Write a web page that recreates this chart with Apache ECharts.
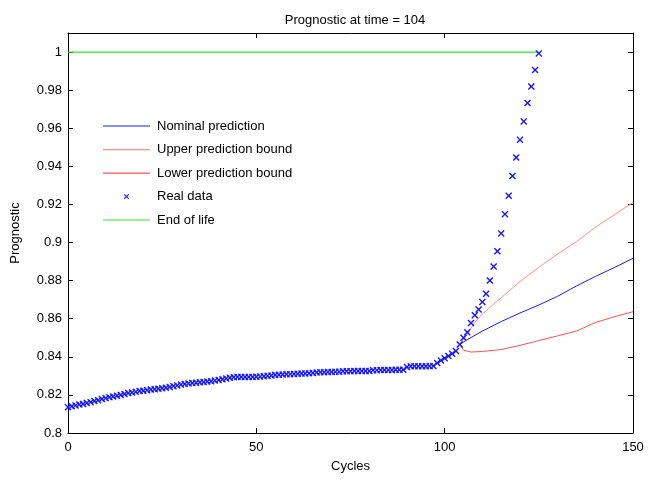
<!DOCTYPE html>
<html>
<head>
<meta charset="utf-8">
<script src="https://cdn.jsdelivr.net/npm/echarts@6/dist/echarts.min.js"></script>
<style>html,body{margin:0;padding:0;background:#fff}#c{width:649px;height:481px}</style>
</head>
<body>
<div id="c"></div>
<script>
const titleText = 'Prognostic at time = 104';
const xTicks = [0, 50, 100, 150];
const yTicks = [0.8, 0.82, 0.84, 0.86, 0.88, 0.9, 0.92, 0.94, 0.96, 0.98, 1];

// Real data: one value per cycle, starting at cycle 0
const realData = [
  0.8135, 0.8140, 0.8145, 0.8150, 0.8152, 0.8158, 0.8162, 0.8168, 0.8172, 0.8178,
  0.8183, 0.8188, 0.8192, 0.8196, 0.8200, 0.8205, 0.8210, 0.8213, 0.8216, 0.8220,
  0.8222, 0.8225, 0.8228, 0.8230, 0.8232, 0.8235, 0.8238, 0.8242, 0.8246, 0.8250,
  0.8254, 0.8257, 0.8260, 0.8262, 0.8264, 0.8266, 0.8268, 0.8270, 0.8272, 0.8275,
  0.8278, 0.8282, 0.8286, 0.8290, 0.8293, 0.8294, 0.8294, 0.8294, 0.8294, 0.8294,
  0.8295, 0.8296, 0.8298, 0.8300, 0.8302, 0.8304, 0.8306, 0.8307, 0.8308, 0.8309,
  0.8310, 0.8311, 0.8312, 0.8313, 0.8314, 0.8315, 0.8318, 0.8319, 0.8319, 0.8320,
  0.8320, 0.8321, 0.8321, 0.8324, 0.8324, 0.8324, 0.8325, 0.8325, 0.8325, 0.8325,
  0.8326, 0.8330, 0.8330, 0.8331, 0.8331, 0.8331, 0.8331, 0.8332, 0.8332, 0.8332,
  0.8346, 0.8350, 0.8350, 0.8350, 0.8350, 0.8350, 0.8351, 0.8352, 0.8368, 0.8381,
  0.8392, 0.8404, 0.8416, 0.8430, 0.8465, 0.8500, 0.8529, 0.8578, 0.8618, 0.8648,
  0.8688, 0.8731, 0.8801, 0.8874, 0.8954, 0.9048, 0.9149, 0.9246, 0.9349, 0.9446,
  0.9539, 0.9636, 0.9732, 0.9819, 0.9906, 0.9993
];

const nominalX = [104, 106, 110, 115, 120, 125, 130, 135, 140, 145, 150];
const nominalY = [0.8465, 0.8490, 0.8535, 0.8585, 0.8630, 0.8672, 0.8718, 0.8772, 0.8822, 0.8868, 0.8917];

const upperX = [104, 106, 108, 110, 115, 120, 125, 130, 135, 140, 145, 150];
const upperY = [0.8465, 0.8520, 0.8580, 0.8625, 0.8710, 0.8795, 0.8870, 0.8940, 0.9005, 0.9080, 0.9145, 0.9210];

const lowerX = [104, 105, 107, 110, 115, 120, 125, 130, 135, 140, 145, 150];
const lowerY = [0.8465, 0.8435, 0.8425, 0.8428, 0.8438, 0.8460, 0.8485, 0.8510, 0.8535, 0.8580, 0.8610, 0.8637];

const eolX = [0, 125];
const eolY = [1, 1];

const names = ['Nominal prediction', 'Upper prediction bound', 'Lower prediction bound', 'Real data', 'End of life'];
const colors = ['#1a1aff', '#ff8c8c', '#ff5050', '#1414ff', '#22ee22'];

const pair = (xs, ys) => xs.map((x, i) => [x, ys[i]]);
const crossShape = 'M0,1.4L1.4,0L5,3.6L8.6,0L10,1.4L6.4,5L10,8.6L8.6,10L5,6.4L1.4,10L0,8.6L3.6,5Z';
const crossPath = 'path://' + crossShape;
const crossLegend = 'path://M-40,-8L-39.95,-8L-40,-7.95Z M50,18L49.95,18L50,17.95Z ' + crossShape;
const lineLegend = 'path://M0,0L0.02,0L0,0.02Z M47,14L46.98,14L47,13.98Z M0,6.4L47,6.4L47,7.6L0,7.6Z';

const font = 'Liberation Sans, Arial, sans-serif';
const chart = echarts.init(document.getElementById('c'), null, {renderer: 'canvas'});

const baseX = {
  type: 'value', min: 0, max: 150, interval: 50,
  splitLine: {show: false},
  axisLine: {show: true, onZero: false, lineStyle: {color: '#000', width: 1}},
  axisTick: {show: true, inside: true, length: 5, lineStyle: {color: '#000'}},
};
const baseY = {
  type: 'value', min: 0.8, max: 1.01, interval: 0.02,
  splitLine: {show: false},
  axisLine: {show: true, onZero: false, lineStyle: {color: '#000', width: 1}},
  axisTick: {show: true, inside: true, length: 5, lineStyle: {color: '#000'}},
};

const legendItem = (i, icon) => ({
  name: names[i], icon: icon,
  itemStyle: {color: colors[i], borderWidth: 0, opacity: 1}
});

chart.setOption({
  animation: false,
  backgroundColor: '#fff',
  textStyle: {fontFamily: font},
  title: {
    text: titleText, left: 350, textAlign: 'center', top: 9,
    textStyle: {fontFamily: font, fontSize: 13, fontWeight: 'normal', color: '#000'}
  },
  grid: {left: 68, right: 16, top: 33, bottom: 48, containLabel: false},
  legend: {
    orient: 'vertical', left: 103, top: 119, padding: 0,
    itemWidth: 47, itemHeight: 14, itemGap: 9.6,
    textStyle: {fontFamily: font, fontSize: 13, color: '#000', padding: [0, 0, 0, 2]},
    data: [
      legendItem(0, lineLegend),
      legendItem(1, lineLegend),
      legendItem(2, lineLegend),
      legendItem(3, crossLegend),
      legendItem(4, lineLegend)
    ]
  },
  xAxis: [
    Object.assign({}, baseX, {
      position: 'bottom',
      name: 'Cycles', nameLocation: 'middle', nameGap: 27,
      nameTextStyle: {fontFamily: font, fontSize: 13, color: '#000'},
      axisLabel: {show: true, margin: 8, color: '#000', fontFamily: font, fontSize: 13,
        formatter: v => xTicks.includes(v) ? String(v) : ''}
    }),
    Object.assign({}, baseX, {position: 'top', axisLabel: {show: false}})
  ],
  yAxis: [
    Object.assign({}, baseY, {
      position: 'left',
      name: 'Prognostic', nameLocation: 'middle', nameGap: 46, nameRotate: 90,
      nameTextStyle: {fontFamily: font, fontSize: 13, color: '#000'},
      axisLabel: {show: true, margin: 6, color: '#000', fontFamily: font, fontSize: 13,
        showMaxLabel: false,
        formatter: v => {
          const t = yTicks.find(k => Math.abs(k - v) < 1e-9);
          return t === undefined ? '' : String(t);
        }}
    }),
    Object.assign({}, baseY, {position: 'right', axisLabel: {show: false}})
  ],
  series: [
    {
      name: names[0], type: 'line', xAxisIndex: 0, yAxisIndex: 0,
      data: pair(nominalX, nominalY), showSymbol: false, symbol: 'none',
      lineStyle: {color: colors[0], width: 1}, itemStyle: {color: colors[0]}, z: 3
    },
    {
      name: names[1], type: 'line', xAxisIndex: 0, yAxisIndex: 0,
      data: pair(upperX, upperY), showSymbol: false, symbol: 'none',
      lineStyle: {color: colors[1], width: 1}, itemStyle: {color: colors[1]}, z: 3
    },
    {
      name: names[2], type: 'line', xAxisIndex: 0, yAxisIndex: 0,
      data: pair(lowerX, lowerY), showSymbol: false, symbol: 'none',
      lineStyle: {color: colors[2], width: 1}, itemStyle: {color: colors[2]}, z: 3
    },
    {
      name: names[3], type: 'scatter', xAxisIndex: 0, yAxisIndex: 0,
      data: realData.map((v, i) => [i, v]),
      symbol: crossPath, symbolSize: 7,
      itemStyle: {color: colors[3], opacity: 1}, z: 4
    },
    {
      name: names[4], type: 'line', xAxisIndex: 0, yAxisIndex: 0,
      data: pair(eolX, eolY), showSymbol: false, symbol: 'none',
      lineStyle: {color: colors[4], width: 1.2}, itemStyle: {color: colors[4]}, z: 2
    }
  ]
});
</script>
</body>
</html>
